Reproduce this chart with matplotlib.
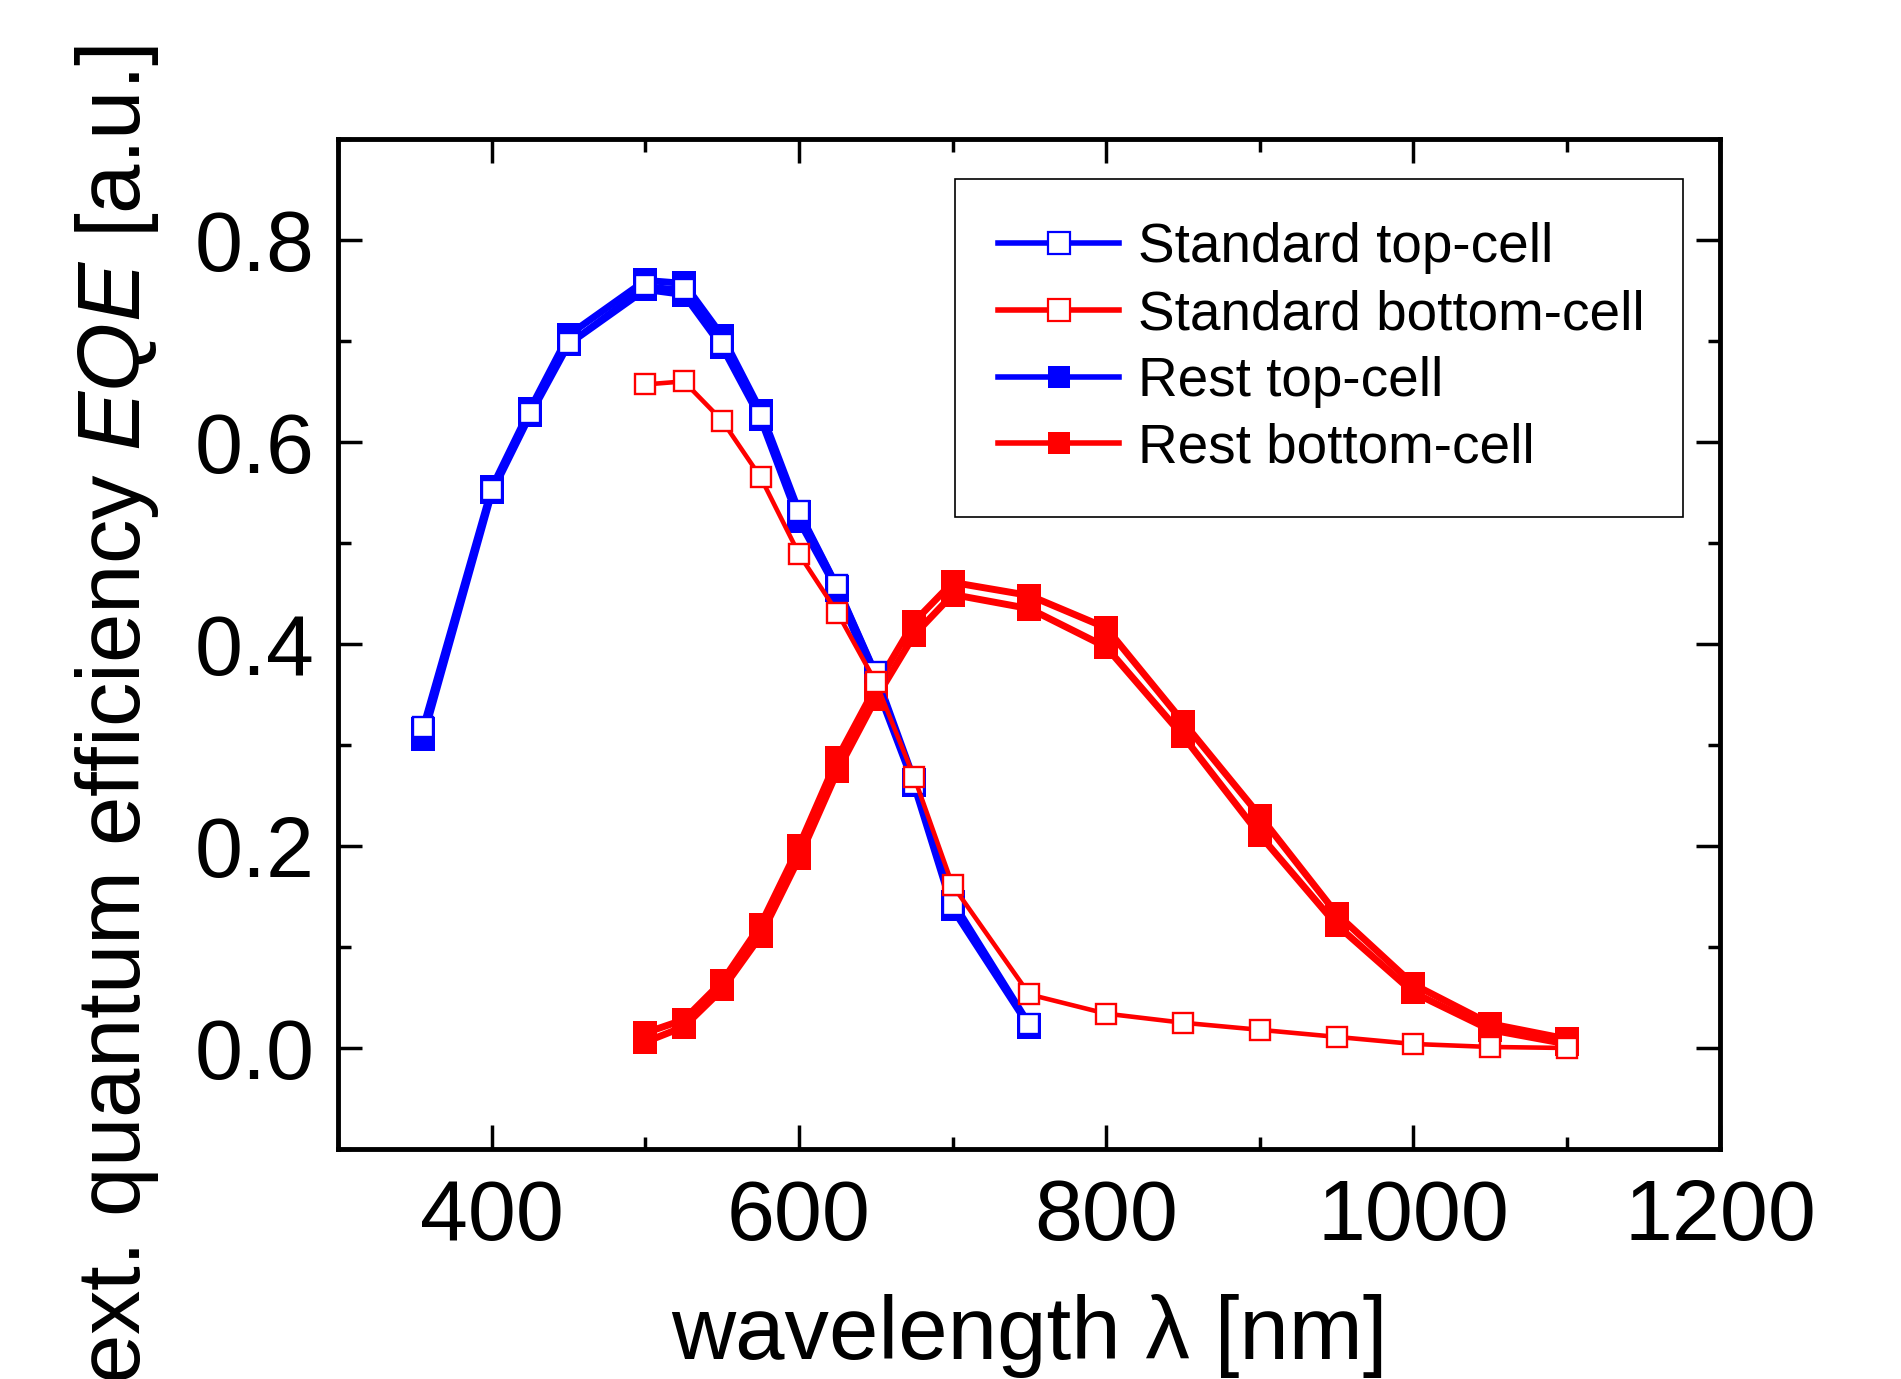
import matplotlib
matplotlib.use('Agg')
import matplotlib.pyplot as plt
from matplotlib.lines import Line2D
from matplotlib.ticker import MultipleLocator, FormatStrFormatter

plt.rcParams['font.family'] = ['Liberation Sans', 'DejaVu Sans']
plt.rcParams['mathtext.fontset'] = 'custom'
plt.rcParams['mathtext.it'] = 'Liberation Sans:italic'
plt.rcParams['mathtext.rm'] = 'Liberation Sans'

# ---------------- data ----------------
wl_top = [355, 400, 425, 450, 500, 525, 550, 575, 600, 625, 650, 675, 700, 750]
std_top = [0.318, 0.552, 0.629, 0.698, 0.755, 0.751, 0.697, 0.626, 0.532, 0.458, 0.372, 0.261, 0.142, 0.024]
rest_top_a = [0.316, 0.555, 0.633, 0.706, 0.760, 0.757, 0.705, 0.631, 0.531, 0.456, 0.370, 0.265, 0.145, 0.023]
rest_top_b = [0.306, 0.550, 0.627, 0.697, 0.751, 0.746, 0.694, 0.623, 0.522, 0.453, 0.360, 0.260, 0.138, 0.021]

wl_bottom = [500, 525, 550, 575, 600, 625, 650, 675, 700, 750, 800, 850, 900, 950, 1000, 1050, 1100]
std_bottom = [0.657, 0.660, 0.621, 0.565, 0.489, 0.431, 0.362, 0.268, 0.161, 0.053, 0.034, 0.025,
              0.018, 0.011, 0.004, 0.001, 0.000]
rest_bottom_a = [0.015, 0.028, 0.066, 0.122, 0.200, 0.287, 0.358, 0.422, 0.461, 0.448, 0.416, 0.323,
                 0.230, 0.133, 0.063, 0.024, 0.009]
rest_bottom_b = [0.006, 0.021, 0.058, 0.111, 0.188, 0.274, 0.346, 0.409, 0.449, 0.435, 0.397, 0.309,
                 0.211, 0.122, 0.055, 0.018, 0.004]

legend_labels = ['Standard top-cell', 'Standard bottom-cell', 'Rest top-cell', 'Rest bottom-cell']
xlabel = r'wavelength λ [nm]'
ylabel = r'ext. quantum efficiency $\mathit{EQE}$ [a.u.]'

BLUE = '#0000ff'
RED = '#ff0000'

# ---------------- figure ----------------
fig = plt.figure(figsize=(19.01, 13.79), dpi=100)
ax = fig.add_axes([0.178, 0.1668, 0.727, 0.7324])

rest_kw = dict(lw=5, marker='s', ms=17, mew=0, solid_joinstyle='miter')
std_kw = dict(lw=3.3, marker='s', ms=14.5, mew=1.7, mfc='white')

# Rest series (filled)
ax.plot(wl_top, rest_top_a, color=BLUE, mfc=BLUE, **rest_kw)
ax.plot(wl_top, rest_top_b, color=BLUE, mfc=BLUE, **rest_kw)
ax.plot(wl_bottom, rest_bottom_a, color=RED, mfc=RED, **rest_kw)
ax.plot(wl_bottom, rest_bottom_b, color=RED, mfc=RED, **rest_kw)
# Standard series (open)
ax.plot(wl_top, std_top, color=BLUE, mec=BLUE, **std_kw)
ax.plot(wl_bottom, std_bottom, color=RED, mec=RED, **std_kw)

ax.set_xlim(300, 1200)
ax.set_ylim(-0.1, 0.9)
ax.xaxis.set_major_locator(MultipleLocator(200))
ax.xaxis.set_minor_locator(MultipleLocator(100))
ax.yaxis.set_major_locator(MultipleLocator(0.2))
ax.yaxis.set_minor_locator(MultipleLocator(0.1))
ax.yaxis.set_major_formatter(FormatStrFormatter('%.1f'))

for s in ax.spines.values():
    s.set_linewidth(3.5)
ax.tick_params(which='both', direction='in', top=True, right=True, width=2.5)
ax.tick_params(which='major', length=17, labelsize=62)
ax.tick_params(which='minor', length=9)
ax.tick_params(axis='x', which='major', pad=21)
ax.tick_params(axis='y', which='major', pad=17)

ax.set_xlabel(xlabel, fontsize=64, labelpad=26)
ax.set_ylabel(ylabel, fontsize=64)
ax.yaxis.set_label_coords(-0.128, 0.43)

# legend proxies
handles = [
    Line2D([], [], color=BLUE, lw=4, marker='s', ms=16.5, mfc='white', mec=BLUE, mew=1.6),
    Line2D([], [], color=RED, lw=4, marker='s', ms=16.5, mfc='white', mec=RED, mew=1.6),
    Line2D([], [], color=BLUE, lw=4, marker='s', ms=16.5, mfc=BLUE, mec=BLUE, mew=0),
    Line2D([], [], color=RED, lw=4, marker='s', ms=16.5, mfc=RED, mec=RED, mew=0),
]
leg = ax.legend(handles, legend_labels, loc='upper left',
                bbox_to_anchor=(0.4465, 0.636, 0.5265, 0.324), mode='expand',
                borderaxespad=0, fontsize=39.5, frameon=True, fancybox=False,
                edgecolor='black', framealpha=1, handlelength=2.2,
                handletextpad=0.34, borderpad=0.78, labelspacing=0.27, numpoints=1)
leg.get_frame().set_linewidth(1.2)

fig.savefig('out.png', dpi=100)
